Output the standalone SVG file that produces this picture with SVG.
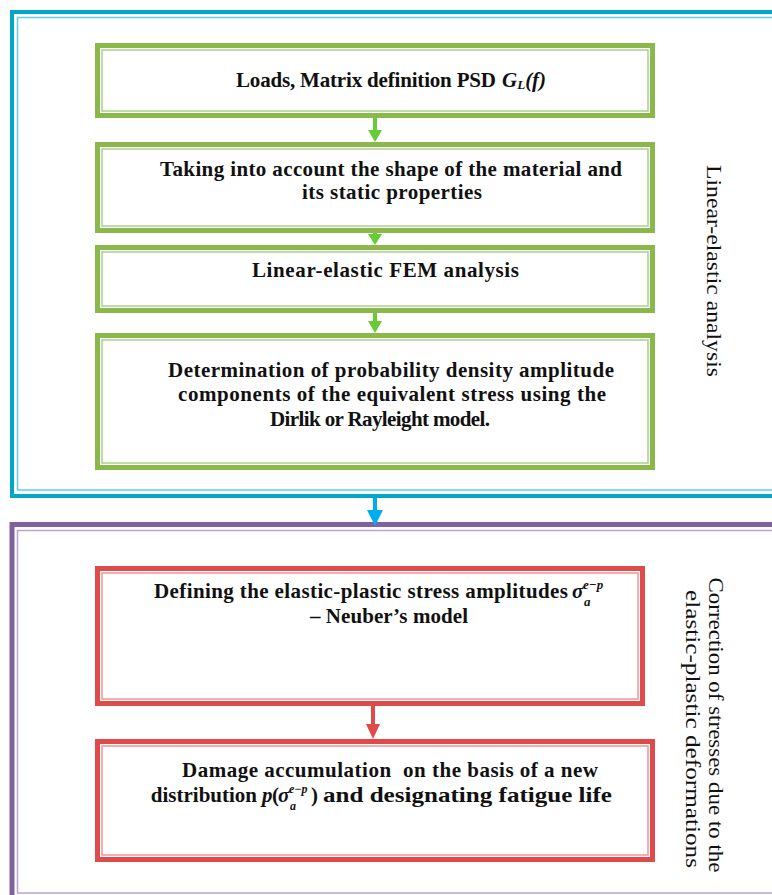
<svg xmlns="http://www.w3.org/2000/svg" width="772" height="895" viewBox="0 0 772 895">
<style>
.t{font-family:"Liberation Serif","Times New Roman",serif;font-weight:bold;font-size:21px;fill:#111}
.m{font-family:"Liberation Serif","Times New Roman",serif;font-weight:bold;font-style:italic;fill:#111}
.side{font-family:"Liberation Serif","Times New Roman",serif;font-size:20.5px;fill:#111}
.gO{fill:#fff;stroke:#8BB84B;stroke-width:5}
.gI{fill:none;stroke:#A9D18E;stroke-width:1.5}
.rO{fill:#fff;stroke:#DF4B4B;stroke-width:5}
.rI{fill:none;stroke:#F29494;stroke-width:1.5}
</style>
<rect width="772" height="895" fill="#fff"/>
<g id="group-linear">
<rect x="12" y="12" width="800" height="484" fill="none" stroke="#00A7C7" stroke-width="4"/>
<rect x="17.5" y="17.5" width="800" height="472.5" fill="none" stroke="#5FCFE5" stroke-width="1.5"/>
<text class="side" transform="translate(707,271) rotate(90)" text-anchor="middle" textLength="212" lengthAdjust="spacingAndGlyphs">Linear-elastic analysis</text>
</g>
<g id="group-correction">
<rect x="12" y="524.5" width="800" height="374" fill="none" stroke="#8061A0" stroke-width="5"/>
<rect x="17.5" y="530.5" width="800" height="362.5" fill="none" stroke="#B9A3D3" stroke-width="1.5"/>
<text class="side" transform="translate(709,725) rotate(90)" text-anchor="middle" textLength="295" lengthAdjust="spacingAndGlyphs">Correction of stresses due to the</text>
<text class="side" transform="translate(686,729) rotate(90)" text-anchor="middle" textLength="278" lengthAdjust="spacingAndGlyphs">elastic-plastic deformations</text>
</g>
<g id="connectors">
<g fill="#66CC33" stroke="none">
<rect x="373" y="118" width="4" height="14"/><polygon points="368,130 382,130 375,142"/>
<rect x="373" y="233" width="4" height="3"/><polygon points="368,234 382,234 375,245"/>
<rect x="373" y="313" width="4" height="10"/><polygon points="368,321 382,321 375,333"/>
</g>
<g fill="#00AEEF"><rect x="373" y="498" width="4" height="14"/><polygon points="367,510 383,510 375,526"/></g>
<g fill="#DF4B4B"><rect x="371" y="706" width="4" height="20"/><polygon points="366,724 380,724 373,739"/></g>
</g>
<g id="n1">
<rect class="gO" x="97.5" y="45.5" width="555" height="70"/>
<rect class="gI" x="102" y="50" width="546" height="61"/>
<text class="t" x="236" y="87" textLength="260" lengthAdjust="spacing">Loads, Matrix definition PSD</text>
<text class="m" x="502" y="87" font-size="21">G<tspan font-size="13" dy="2">L</tspan><tspan dy="-2">(f)</tspan></text>
</g>
<g id="n2">
<rect class="gO" x="97.5" y="144.5" width="555" height="86"/>
<rect class="gI" x="102" y="149" width="546" height="77"/>
<text class="t" x="160" y="176" textLength="462" lengthAdjust="spacing">Taking into account the shape of the material and</text>
<text class="t" x="302" y="199" textLength="180" lengthAdjust="spacing">its static properties</text>
</g>
<g id="n3">
<rect class="gO" x="97.5" y="247.5" width="555" height="63"/>
<rect class="gI" x="102" y="252" width="546" height="54"/>
<text class="t" x="252" y="277" textLength="267" lengthAdjust="spacing">Linear-elastic FEM analysis</text>
</g>
<g id="n4">
<rect class="gO" x="97.5" y="335.5" width="555" height="132"/>
<rect class="gI" x="102" y="340" width="546" height="123"/>
<text class="t" x="168" y="377" textLength="446" lengthAdjust="spacing">Determination of probability density amplitude</text>
<text class="t" x="178" y="401" textLength="428" lengthAdjust="spacing">components of the equivalent stress using the</text>
<text class="t" x="270" y="426" textLength="220" lengthAdjust="spacing">Dirlik or Rayleight model.</text>
</g>
<g id="n5">
<rect class="rO" x="97.5" y="568.5" width="545" height="135"/>
<rect class="rI" x="102" y="573" width="536" height="126"/>
<text class="t" x="154" y="598" textLength="414" lengthAdjust="spacing">Defining the elastic-plastic stress amplitudes</text>
<text class="m" x="572" y="598" font-size="21">σ</text>
<text class="m" x="584" y="606" font-size="13">a</text>
<text class="m" x="583" y="589" font-size="13">e−p</text>
<text class="t" x="310" y="623" textLength="158" lengthAdjust="spacing">– Neuber’s model</text>
</g>
<g id="n6">
<rect class="rO" x="97.5" y="741.5" width="555" height="118"/>
<rect class="rI" x="102" y="746" width="546" height="109"/>
<text class="t" x="182" y="777" textLength="416" lengthAdjust="spacing" xml:space="preserve">Damage accumulation  on the basis of a new</text>
<text class="t" x="257" y="802" text-anchor="end">distribution</text>
<text class="m" x="262" y="802" font-size="21">p</text>
<text class="t" x="272" y="802" font-weight="normal">(</text>
<text class="m" x="278" y="802" font-size="21">σ</text>
<text class="m" x="290" y="810" font-size="12">a</text>
<text class="m" x="289" y="793" font-size="12">e−p</text>
<text class="t" x="311" y="802" font-weight="normal">)</text>
<text class="t" x="323" y="802" textLength="289" lengthAdjust="spacingAndGlyphs">and designating fatigue life</text>
</g>
</svg>
